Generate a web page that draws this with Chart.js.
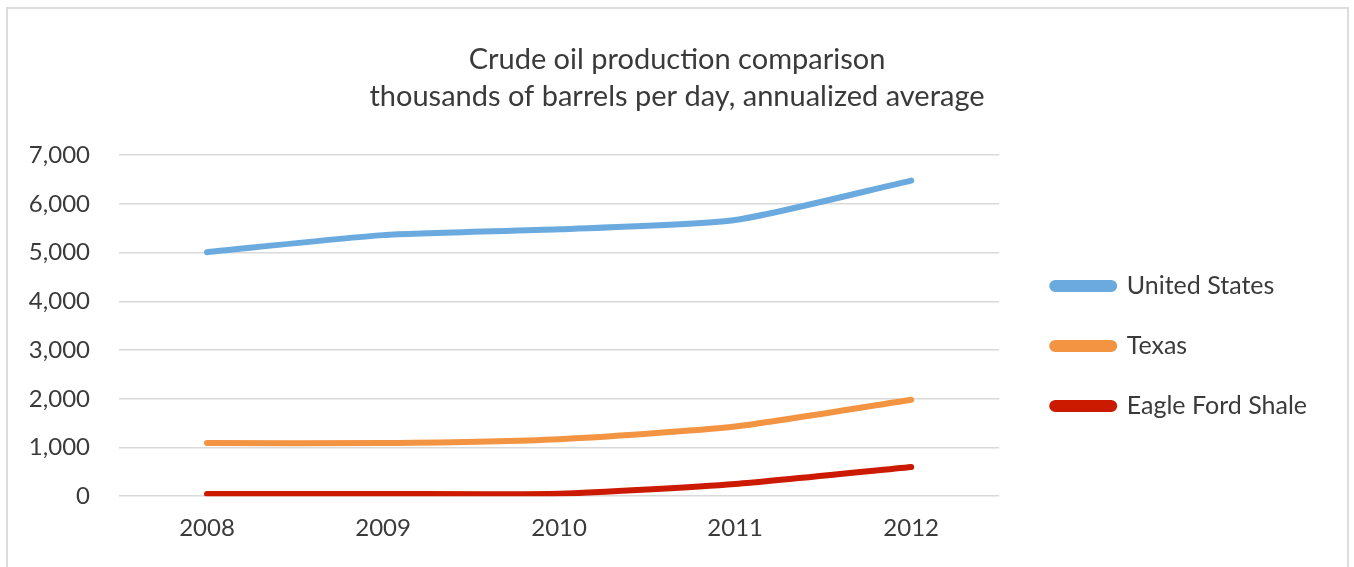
<!DOCTYPE html>
<html>
<head>
<meta charset="utf-8">
<script src="https://cdn.jsdelivr.net/npm/chart.js@4"></script>
<style>
  body { margin: 0; background: #fff; }
  #wrap { position: relative; width: 1354px; height: 567px; }
  #frame { position: absolute; left: 6px; top: 7px; width: 1343px; height: 570px;
           border: 2px solid #dcdcdc; box-sizing: border-box; pointer-events: none; }
</style>
</head>
<body>
<div id="wrap">
  <canvas id="chart"></canvas>
  <div id="frame"></div>
</div>
<script>
const years = ["2008", "2009", "2010", "2011", "2012"];
const unitedStates = [5010, 5360, 5480, 5670, 6480];
const texas = [1090, 1090, 1170, 1430, 1980];
const eagleFord = [45, 45, 50, 250, 600];
const seriesNames = ["United States", "Texas", "Eagle Ford Shale"];
const seriesColors = ["#6aaade", "#f39443", "#cc1a00"];

const textColor = "#3a3a3a";
const fontFamily = "Lato, 'Open Sans', sans-serif";

function makeSet(i, values) {
    return {
        label: seriesNames[i],
        data: values,
        borderColor: seriesColors[i],
        backgroundColor: seriesColors[i],
        borderWidth: 6,
        borderCapStyle: 'round',
        borderJoinStyle: 'round',
        pointRadius: 0,
        tension: 0.2,
        fill: false
    };
}

const ctx = document.getElementById('chart').getContext('2d');
const myChart = new Chart(ctx, {
    type: 'line',
    data: {
        labels: years,
        datasets: [makeSet(0, unitedStates), makeSet(1, texas), makeSet(2, eagleFord)]
    },
    options: {
        responsive: true,
        maintainAspectRatio: false,
        animation: false,
        layout: {
            padding: { left: 0, right: 0, top: 41, bottom: 6 }
        },
        scales: {
            x: {
                offset: true,
                grid: { display: false, drawTicks: false },
                border: { display: false },
                ticks: {
                    color: textColor,
                    padding: 18,
                    font: { family: fontFamily, size: 24 }
                }
            },
            y: {
                min: 0,
                max: 7000,
                grid: { color: '#d9d9d9', lineWidth: 1.5, drawTicks: false },
                border: { display: false },
                ticks: {
                    stepSize: 1000,
                    color: textColor,
                    padding: 29,
                    font: { family: fontFamily, size: 24 },
                    callback: function(value) {
                        return value.toLocaleString('en-US');
                    }
                },
                afterFit: function(scale) { scale.width = 119; }
            },
            // hidden spacer between the plot and the legend
            gap: {
                type: 'linear',
                position: 'right',
                display: false,
                afterFit: function(scale) { scale.width = 18; }
            },
            // hidden spacer outside the legend
            edge: {
                type: 'linear',
                position: 'right',
                display: false,
                weight: 2000,
                afterFit: function(scale) { scale.width = 37; }
            }
        },
        plugins: {
            title: {
                display: true,
                text: ["Crude oil production comparison", "thousands of barrels per day, annualized average"],
                color: textColor,
                font: { family: fontFamily, size: 29, weight: 'normal', lineHeight: 1.28 },
                padding: { top: 0, bottom: 40 }
            },
            legend: {
                position: 'right',
                title: {
                    display: true,
                    text: ' ',
                    font: { size: 10, lineHeight: 1.2 },
                    padding: 39
                },
                labels: {
                    color: textColor,
                    font: { family: fontFamily, size: 25 },
                    boxWidth: 62,
                    boxHeight: 6,
                    useBorderRadius: true,
                    borderRadius: 3,
                    padding: 35
                }
            },
            tooltip: { enabled: false }
        }
    }
});
</script>
</body>
</html>
